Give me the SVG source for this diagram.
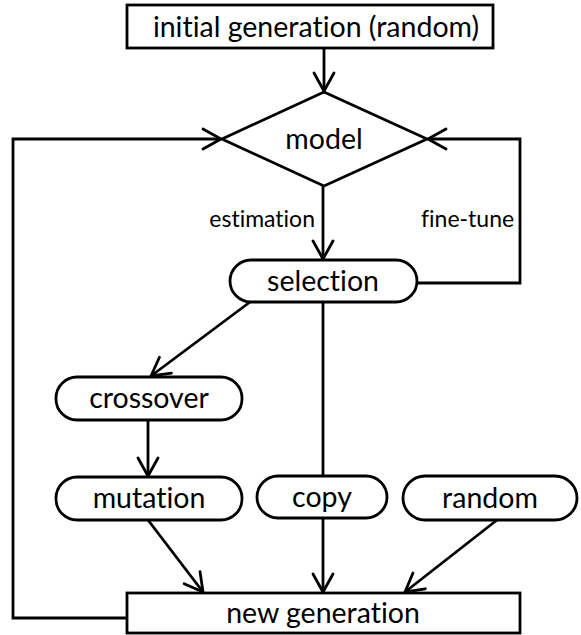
<svg xmlns="http://www.w3.org/2000/svg" width="581" height="635" viewBox="0 0 581 635">
  <style>
    .box { fill: #fff; stroke: #000; stroke-width: 2.8; }
    .lbl { font-family: Lato, "Liberation Sans", sans-serif; font-size: 28.5px; fill: #000; text-anchor: middle; font-variant-ligatures: none; }
    .small { font-family: Lato, "Liberation Sans", sans-serif; font-size: 23px; fill: #000; font-variant-ligatures: none; }
    .edge { fill: none; stroke: #000; stroke-width: 2.8; }
    .arr { marker-end: url(#head); }
  </style>
  <defs>
    <marker id="head" markerUnits="userSpaceOnUse" viewBox="-21 -13 24 26" markerWidth="24" markerHeight="26" refX="0" refY="0" orient="auto" overflow="visible">
      <path d="M-18,-10 L0,0 L-18,10" fill="none" stroke="#000" stroke-width="2.8" stroke-linecap="round" stroke-linejoin="miter"/>
    </marker>
  </defs>

  <rect width="581" height="635" fill="#fff"/>

  <!-- connectors -->
  <g id="connectors">
    <line class="edge arr" x1="324" y1="48" x2="324" y2="91"/>
    <line class="edge arr" x1="323" y1="186" x2="323" y2="259"/>
    <polyline class="edge arr" points="417,283 520,283 520,139 428,139"/>
    <polyline class="edge arr" points="127,618 13,618 13,139 221,139"/>
    <line class="edge arr" x1="250" y1="302" x2="151" y2="376"/>
    <line class="edge arr" x1="148" y1="420" x2="148" y2="476"/>
    <line class="edge" x1="323" y1="302" x2="323" y2="476"/>
    <line class="edge arr" x1="148" y1="520" x2="203" y2="592"/>
    <line class="edge arr" x1="323" y1="518" x2="323" y2="592"/>
    <line class="edge arr" x1="497" y1="520" x2="405" y2="592"/>
    <text class="small" x="315" y="227" text-anchor="end">estimation</text>
    <text class="small" x="421" y="227">fine-tune</text>
  </g>

  <g id="initial">
    <rect class="box" x="127" y="5" width="366" height="43"/>
    <text class="lbl" x="316" y="37">initial generation (random)</text>
  </g>

  <g id="model">
    <polygon class="box" points="324,92 427,139 324,186 222,139"/>
    <text class="lbl" x="324" y="149">model</text>
  </g>

  <g id="selection">
    <rect class="box" x="230" y="260" width="187" height="42" rx="21"/>
    <text class="lbl" x="323" y="291">selection</text>
  </g>

  <g id="crossover">
    <rect class="box" x="56" y="377" width="186" height="43" rx="21"/>
    <text class="lbl" x="149" y="408">crossover</text>
  </g>

  <g id="mutation">
    <rect class="box" x="56" y="477" width="186" height="43" rx="21"/>
    <text class="lbl" x="149" y="508">mutation</text>
  </g>

  <g id="copy">
    <rect class="box" x="257" y="476" width="130" height="42" rx="21"/>
    <text class="lbl" x="322" y="507">copy</text>
  </g>

  <g id="random">
    <rect class="box" x="403" y="476" width="174" height="44" rx="22"/>
    <text class="lbl" x="490" y="508">random</text>
  </g>

  <g id="new-generation">
    <rect class="box" x="127" y="593" width="393" height="40"/>
    <text class="lbl" x="323" y="623">new generation</text>
  </g>
</svg>
